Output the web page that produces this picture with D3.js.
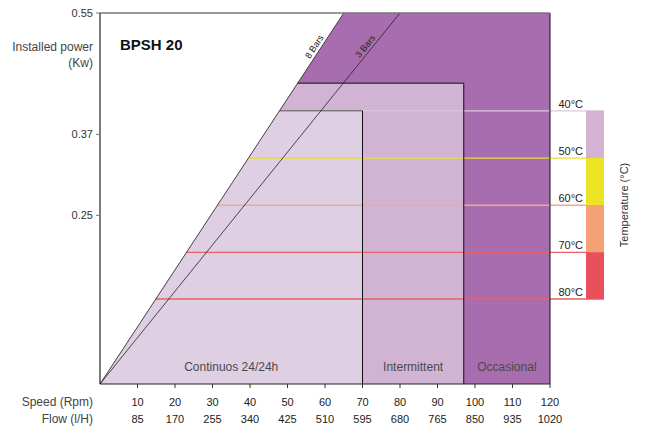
<!DOCTYPE html>
<html><head><meta charset="utf-8">
<script src="https://cdn.jsdelivr.net/npm/d3@7"></script>
<style>body{margin:0;background:#fff}svg{display:block;font-family:"Liberation Sans",Arial,sans-serif}</style>
</head><body><svg id="c" width="646" height="433"></svg>
<script>
const speedTicks = [10,20,30,40,50,60,70,80,90,100,110,120];
const flowTicks = [85,170,255,340,425,510,595,680,765,850,935,1020];
const powerTicks = [0.25,0.37,0.55];
const barLabels = ["8 Bars","3 Bars"];
const barSpeedAtMax = [65,80];
const regionLabels = ["Occasional","Intermittent","Continuos 24/24h"];
const regionSpeed = [120,97,70];
const regionPower = [0.55,0.446,0.405];
const tempLabels = ["40°C","50°C","60°C","70°C","80°C"];
const tempPower = [0.405,0.335,0.265,0.195,0.126];

const regionFill = ["#a86dae","#d1b3d4","#dfcfe3"];
const regionStroke = ["#111","#111","#555"];
const tempBand = ["#d4b2d4","#ebe424","#f5a077","#e8505a"];
const tempLine = ["#dcc8e0","#e6de3a","#f0aa90","#e8606a","#e8606a"];

const svg = d3.select("#c");
const x = d3.scaleLinear().domain([0,120]).range([100,550]);
const y = d3.scaleLinear().domain([0,0.55]).range([384,13]);
const maxP = 0.55;
const s8 = p => barSpeedAtMax[0]*p/maxP;

// region fills
regionLabels.forEach((lab,i)=>{
  const p = regionPower[i], s = regionSpeed[i];
  const pts = [[0,0],[s8(p),p],[s,p],[s,0]];
  svg.append("path")
    .attr("d", d3.line()(pts.map(d=>[x(d[0]),y(d[1])])) + "Z")
    .attr("fill", regionFill[i]).attr("stroke","none");
});

// temperature lines
tempLabels.forEach((lab,i)=>{
  const p = tempPower[i];
  svg.append("line").attr("x1",x(s8(p))).attr("x2",604).attr("y1",y(p)).attr("y2",y(p))
    .attr("stroke",tempLine[i]).attr("stroke-width",1.3);
  svg.append("text").attr("x",583).attr("y",y(p)-3).attr("text-anchor","end")
    .attr("font-size",11).attr("fill","#222").text(lab);
});

// region strokes
regionLabels.forEach((lab,i)=>{
  const p = regionPower[i], s = regionSpeed[i];
  if(i>0){
    svg.append("path")
      .attr("d", d3.line()([[s8(p),p],[s,p]].map(d=>[x(d[0]),y(d[1])])))
      .attr("fill","none").attr("stroke",regionStroke[i]).attr("stroke-width",1);
    svg.append("path")
      .attr("d", d3.line()([[s,p],[s,0]].map(d=>[x(d[0]),y(d[1])])))
      .attr("fill","none").attr("stroke","#111").attr("stroke-width",1);
  }
});
svg.append("line").attr("x1",x(120)).attr("x2",x(120)).attr("y1",y(0.55)).attr("y2",y(0))
  .attr("stroke","#111").attr("stroke-width",1);

// region labels
const prevS = [97,70,0];
regionLabels.forEach((lab,i)=>{
  svg.append("text").attr("x",(x(regionSpeed[i])+x(prevS[i]))/2).attr("y",y(0)-13)
    .attr("text-anchor","middle").attr("font-size",12).attr("fill","#4a4a4a").text(lab);
});

// temperature bands
tempBand.forEach((c,i)=>{
  svg.append("rect").attr("x",586).attr("width",18)
    .attr("y",y(tempPower[i])).attr("height",y(tempPower[i+1])-y(tempPower[i]))
    .attr("fill",c);
});
svg.append("text").attr("transform","translate(628,205) rotate(-90)")
  .attr("text-anchor","middle").attr("font-size",11).attr("fill","#333").text("Temperature (°C)");

// bar lines
barLabels.forEach((lab,i)=>{
  const s = barSpeedAtMax[i];
  svg.append("line").attr("x1",x(0)).attr("y1",y(0)).attr("x2",x(s)).attr("y2",y(maxP))
    .attr("stroke","#222").attr("stroke-width",0.8);
  const ang = Math.atan2(y(maxP)-y(0), x(s)-x(0))*180/Math.PI;
  const p = 0.495;
  svg.append("text")
    .attr("transform",`translate(${x(s*p/maxP)},${y(p)}) rotate(${ang})`)
    .attr("dy",-3).attr("text-anchor","middle").attr("font-size",9).attr("fill","#222").text(lab);
});

// axes frame
svg.append("line").attr("x1",100).attr("x2",550).attr("y1",y(0.55)).attr("y2",y(0.55))
  .attr("stroke","#777").attr("stroke-width",1.5);
svg.append("line").attr("x1",100).attr("x2",100).attr("y1",y(0.55)).attr("y2",y(0))
  .attr("stroke","#222").attr("stroke-width",1.2);
svg.append("line").attr("x1",100).attr("x2",550).attr("y1",y(0)).attr("y2",y(0))
  .attr("stroke","#222").attr("stroke-width",1.2);

// y ticks
powerTicks.forEach(t=>{
  svg.append("line").attr("x1",96).attr("x2",100).attr("y1",y(t)).attr("y2",y(t)).attr("stroke","#777");
  svg.append("text").attr("x",93).attr("y",y(t)+4).attr("text-anchor","end")
    .attr("font-size",11).attr("fill","#333").text(t.toFixed(2));
});
// x ticks
speedTicks.forEach((t,i)=>{
  svg.append("line").attr("x1",x(t)).attr("x2",x(t)).attr("y1",y(0)).attr("y2",y(0)+4).attr("stroke","#333");
  svg.append("text").attr("x",x(t)).attr("y",406).attr("text-anchor","middle")
    .attr("font-size",11).attr("fill","#222").text(t);
  svg.append("text").attr("x",x(t)).attr("y",423).attr("text-anchor","middle")
    .attr("font-size",11).attr("fill","#222").text(flowTicks[i]);
});

// labels
const lbl = (t,xx,yy,fs,c,anchor="end",w="normal")=>svg.append("text").attr("x",xx).attr("y",yy)
  .attr("text-anchor",anchor).attr("font-size",fs).attr("fill",c).attr("font-weight",w).text(t);
lbl("Installed power",93,51,12,"#444");
lbl("(Kw)",93,67,12,"#444");
lbl("Speed (Rpm)",93,406,12,"#444");
lbl("Flow (l/H)",93,423,12,"#444");
lbl("BPSH 20",120,50,15,"#111","start","bold");
</script></body></html>
